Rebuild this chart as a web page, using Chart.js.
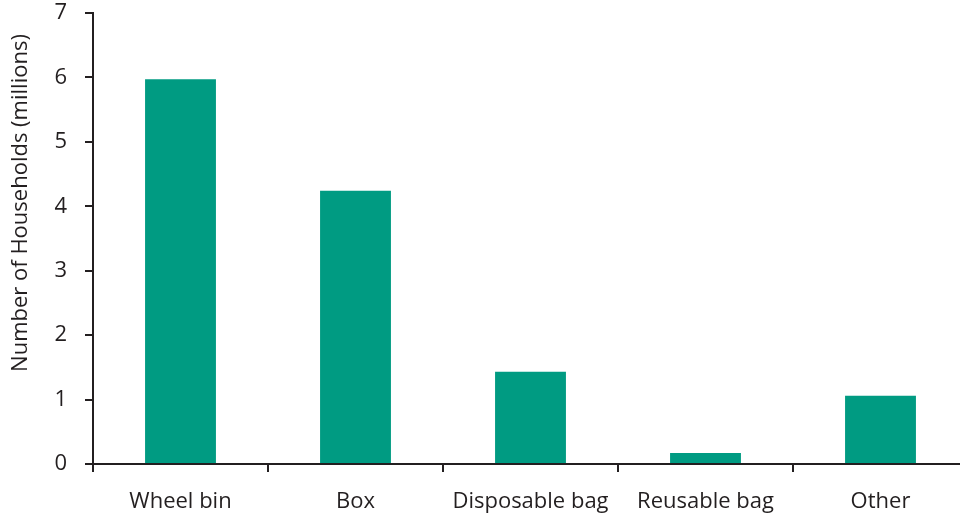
<!DOCTYPE html>
<html>
<head>
<meta charset="utf-8">
<script src="https://cdn.jsdelivr.net/npm/chart.js@4"></script>
<style>
  html, body { margin: 0; padding: 0; background: #fff; overflow: hidden; }
  #wrap { width: 968px; height: 518px; }
</style>
</head>
<body>
<div id="wrap"><canvas id="chart" width="968" height="518"></canvas></div>
<script>
const categories = ['Wheel bin', 'Box', 'Disposable bag', 'Reusable bag', 'Other'];
const households = [5.97, 4.24, 1.43, 0.17, 1.06];
const yTicks = [0, 1, 2, 3, 4, 5, 6, 7];

const inkColor = '#231f20';
const barColor = '#009b82';
const fontFamily = '"Open Sans", "Noto Sans", sans-serif';

// y-axis title drawn by hand so it sits where the original puts it
const yTitlePlugin = {
    id: 'yTitle',
    afterDraw(chart) {
        const ctx = chart.ctx;
        ctx.save();
        ctx.translate(21, 203);
        ctx.rotate(-Math.PI / 2);
        ctx.font = '22px ' + fontFamily;
        ctx.fillStyle = inkColor;
        ctx.textAlign = 'center';
        ctx.textBaseline = 'middle';
        ctx.fillText('Number of Households (millions)', 0, 0);
        ctx.restore();
    }
};

new Chart(document.getElementById('chart'), {
    type: 'bar',
    data: {
        labels: categories,
        datasets: [{
            data: households,
            backgroundColor: barColor,
            borderWidth: 0,
            categoryPercentage: 1,
            barPercentage: 0.405
        }]
    },
    options: {
        responsive: false,
        animation: false,
        layout: { padding: { top: 13, left: 0, right: 0, bottom: 0 } },
        plugins: {
            legend: { display: false },
            tooltip: { enabled: false }
        },
        scales: {
            x: {
                grid: {
                    offset: true,
                    drawOnChartArea: false,
                    drawTicks: true,
                    tickLength: 8,
                    color: inkColor,
                    lineWidth: 2
                },
                border: { color: inkColor, width: 2 },
                ticks: {
                    color: inkColor,
                    font: { family: fontFamily, size: 22 },
                    padding: 17,
                    maxRotation: 0
                },
                afterFit(scale) {
                    scale.height = 54;
                    scale.paddingLeft = 0;
                    scale.paddingRight = 0;
                }
            },
            y: {
                min: 0,
                max: 7,
                afterBuildTicks(scale) { scale.ticks = yTicks.map(v => ({ value: v })); },
                grid: {
                    drawOnChartArea: false,
                    drawTicks: true,
                    tickLength: 8,
                    color: inkColor,
                    lineWidth: 2
                },
                border: { color: inkColor, width: 2 },
                ticks: {
                    color: inkColor,
                    font: { family: fontFamily, size: 22 },
                    padding: 18
                },
                afterFit(scale) {
                    scale.width = 93;
                    scale.paddingTop = 0;
                    scale.paddingBottom = 0;
                }
            }
        }
    },
    plugins: [yTitlePlugin]
});
</script>
</body>
</html>
